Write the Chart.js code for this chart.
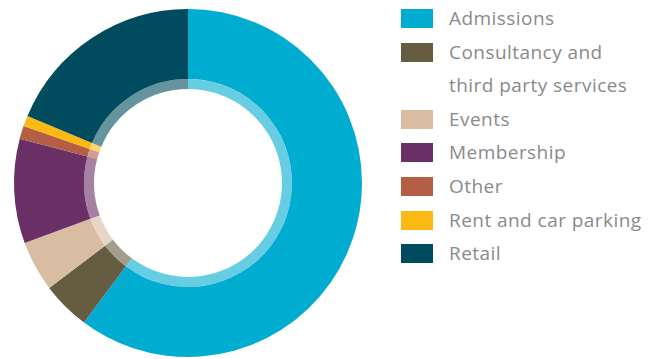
<!DOCTYPE html>
<html>
<head>
<meta charset="utf-8">
<script src="https://cdn.jsdelivr.net/npm/chart.js@4"></script>
<style>
  html, body { margin: 0; padding: 0; background: #fff; }
  .wrap { position: relative; width: 654px; height: 359px; }
  #incomeChart { position: absolute; left: 0; top: 0; }
  .legend { position: absolute; left: 401px; top: 2px; margin: 0; padding: 0; list-style: none;
    font-family: "Open Sans", sans-serif; font-size: 19px; letter-spacing: 0.45px; color: #8a8a8a; line-height: 33.6px; }
  .legend li { position: relative; padding-left: 48px; white-space: nowrap; }
  .legend .swatch { position: absolute; left: 0; top: 7px; width: 32px; height: 19px; }
</style>
</head>
<body>
<div class="wrap">
  <canvas id="incomeChart" width="376" height="359"></canvas>
  <ul class="legend" id="legend"></ul>
</div>
<script>
const categories = ["Admissions", "Consultancy and\nthird party services", "Events", "Membership", "Other", "Rent and car parking", "Retail"];
const shares = [60.2, 4.5, 4.7, 9.7, 1.2, 1.0, 18.7];
const colours = ["#00acd0", "#665c42", "#d9bda3", "#6a2f64", "#b35e45", "#fdb913", "#004c5e"];

// lighter inner band: the same colour faded towards white
function fade(hex, a) {
  const n = parseInt(hex.slice(1), 16);
  return `rgba(${n >> 16}, ${(n >> 8) & 255}, ${n & 255}, ${a})`;
}

const config = {
  type: "doughnut",
  data: {
    labels: categories,
    datasets: [
      { data: shares, backgroundColor: colours, borderWidth: 0, weight: 7 },
      { data: shares, backgroundColor: colours.map((c) => fade(c, 0.6)), borderWidth: 0, weight: 1 },
    ],
  },
  options: {
    responsive: false,
    animation: false,
    cutout: 94,
    layout: { padding: { top: 9, bottom: 2, left: 14, right: 14 } },
    plugins: { legend: { display: false }, tooltip: { enabled: false } },
    events: [],
  },
};

const incomeChart = new Chart(document.getElementById("incomeChart"), config);

// legend
const legend = document.getElementById("legend");
categories.forEach((name, i) => {
  name.split("\n").forEach((line, j) => {
    const li = document.createElement("li");
    if (j === 0) {
      const sw = document.createElement("span");
      sw.className = "swatch";
      sw.style.background = colours[i];
      li.appendChild(sw);
    }
    li.appendChild(document.createTextNode(line));
    legend.appendChild(li);
  });
});
</script>
</body>
</html>
